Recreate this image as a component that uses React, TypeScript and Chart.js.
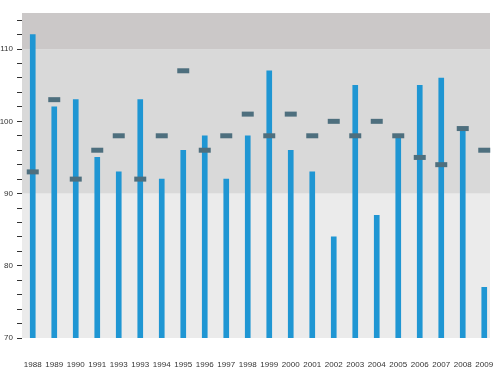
import React, { useEffect, useRef } from "react";
import { Chart, registerables } from "chart.js";

Chart.register(...registerables);

const categories = [
  "1988", "1989", "1990", "1991", "1993", "1993", "1994", "1995", "1996", "1997", "1998",
  "1999", "2000", "2001", "2002", "2003", "2004", "2005", "2006", "2007", "2008", "2009",
];
const barValues = [112, 102, 103, 95, 93, 103, 92, 96, 98, 92, 98, 107, 96, 93, 84, 105, 87, 98, 105, 106, 99, 77];
const markerValues = [93, 103, 92, 96, 98, 92, 98, 107, 96, 98, 101, 98, 101, 98, 100, 98, 100, 98, 95, 94, 99, 96];
const yMin = 70;
const yMax = 115;
const bandLimits = [70, 90, 110, 115];
const bandColors = ["#ebebeb", "#d9d9d9", "#cbc8c8"];

const FONT = { family: '"Liberation Sans Narrow", "Liberation Sans", Arial, sans-serif', size: 8 };

const bandsPlugin = {
  id: "bands",
  beforeDatasetsDraw(chart: any) {
    const { ctx, chartArea, scales } = chart;
    const y = scales.y;
    ctx.save();
    for (let i = 0; i < bandColors.length; i++) {
      const top = y.getPixelForValue(bandLimits[i + 1]);
      const bottom = y.getPixelForValue(bandLimits[i]);
      ctx.fillStyle = bandColors[i];
      ctx.fillRect(chartArea.left, top, chartArea.right - 5 - chartArea.left, bottom - top);
    }
    ctx.restore();
  },
};

export default function App() {
  const ref = useRef<HTMLCanvasElement>(null);
  useEffect(() => {
    if (!ref.current) return;
    const chart = new Chart(ref.current, {
      type: "bar",
      data: {
        labels: categories,
        datasets: [
          {
            type: "line",
            data: markerValues,
            showLine: false,
            pointStyle: "line",
            pointRadius: 6,
            pointHoverRadius: 6,
            borderColor: "#4e6f7e",
            backgroundColor: "#4e6f7e",
            pointBorderWidth: 5,
            borderWidth: 5,
            clip: false,
            order: 0,
          } as any,
          {
            type: "bar",
            data: barValues,
            backgroundColor: "#1f96d3",
            barThickness: 5,
            order: 1,
          },
        ],
      },
      options: {
        responsive: false,
        animation: false,
        layout: { autoPadding: false, padding: { top: 13, right: 5, left: 0, bottom: 0 } },
        plugins: { legend: { display: false }, tooltip: { enabled: false } },
        scales: {
          x: {
            grid: { display: false },
            border: { display: false },
            ticks: {
              autoSkip: false,
              maxRotation: 0,
              minRotation: 0,
              padding: 14,
              color: "#333",
              font: FONT,
            },
            afterFit: (s: any) => {
              s.height = 32;
              s.paddingLeft = 0;
              s.paddingRight = 0;
            },
          },
          y: {
            min: yMin,
            max: yMax,
            border: { display: false },
            grid: {
              drawOnChartArea: false,
              drawTicks: true,
              tickLength: 5,
              tickColor: "#333",
              tickWidth: 1,
            },
            ticks: {
              stepSize: 2,
              includeBounds: false,
              padding: 4,
              color: "#333",
              font: FONT,
              callback: (v: any) => (Number(v) % 10 === 0 ? String(v) : ""),
            },
            afterFit: (s: any) => {
              s.width = 22;
              s.paddingTop = 0;
              s.paddingBottom = 0;
            },
          },
        },
      },
      plugins: [bandsPlugin],
    });
    return () => chart.destroy();
  }, []);
  return (
    <div style={{ position: "fixed", left: 0, top: 0, width: 500, height: 370, background: "#fff" }}>
      <canvas ref={ref} width={500} height={370} />
    </div>
  );
}
